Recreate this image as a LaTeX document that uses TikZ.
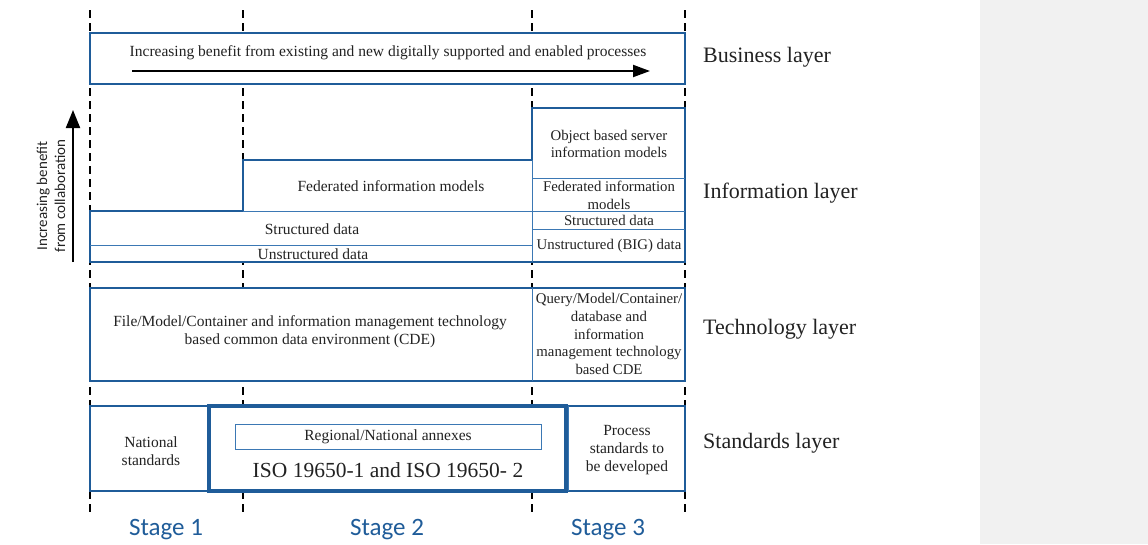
\documentclass[tikz,border=0pt]{standalone}
\usepackage{fontspec}
\setmainfont{Liberation Serif}
\newfontfamily\calfont{Carlito}
\usetikzlibrary{arrows.meta}

\definecolor{boxblue}{HTML}{1F5C99}
\definecolor{lineblue}{HTML}{3B78B4}
\definecolor{txt}{HTML}{222222}
\definecolor{panel}{HTML}{F1F1F1}

\tikzset{
  main/.style={draw=boxblue, line width=2pt},
  thin/.style={draw=lineblue, line width=1pt},
  body/.style={text=txt, font=\fontsize{15.5}{17.8}\selectfont, align=center, inner sep=0pt},
  narrow/.style={body, font=\fontsize{14.8}{17.8}\selectfont},
  layer/.style={text=txt, font=\fontsize{22}{24}\selectfont, anchor=west, inner sep=0pt},
  stage/.style={text=boxblue, font=\calfont\fontsize{25}{28}\selectfont, inner sep=0pt},
  stagesep/.style={draw=black, line width=2.2pt, dash pattern=on 8pt off 5pt}
}

\begin{document}
\begin{tikzpicture}[x=1pt, y=-1pt]

	\useasboundingbox (0,0) rectangle (1148,544);
	\fill[panel] (980,0) rectangle (1148,544);

	\foreach \sx in {90,243,532,685}
		\draw[stagesep] (\sx,10) -- (\sx,516);

	% business layer
	\filldraw[main, fill=white] (90,33) rectangle (685,84);
	\node[body] (biz) at (388,53) {Increasing benefit from existing and new digitally supported and enabled processes};
	\coordinate (bizs) at (132,71);
	\coordinate (bize) at (650,71);
	\draw[line width=2pt, -{Triangle[length=17pt, width=12pt]}] (bizs) -- (bize);

	% information layer
	\filldraw[main, fill=white] (90,211) -- (90,262) -- (685,262) -- (685,108) -- (532,108)
		-- (532,160) -- (243,160) -- (243,211) -- cycle;
	\draw[thin] (243,211) -- (685,211);
	\draw[thin] (90,245) -- (532,245);
	\draw[thin] (532,160) -- (532,262);
	\draw[thin] (532,178) -- (685,178);
	\draw[thin] (532,229) -- (685,229);

	\node[body] (struct) at (312,229) {Structured data};
	\node[body] (unstruct) at (313,254) {Unstructured data};
	\node[body] (fed) at (391,186) {Federated information models};
	\node[narrow] (objsrv) at (609,144) {Object based server\\information models};
	\node[narrow] (fedR) at (609,195) {Federated information\\models};
	\node[narrow] (structR) at (609,220) {Structured data};
	\node[narrow] (bigdata) at (609,246) {Unstructured (BIG) data};

	\coordinate (collabs) at (73,262);
	\coordinate (collabe) at (73,110);
	\draw[line width=2pt, -{Triangle[length=18pt, width=14pt]}] (collabs) -- (collabe);
	\node[text=txt, font=\calfont\fontsize{15}{18}\selectfont, align=center, rotate=90, inner sep=0pt]
		(collab) at (51,196) {Increasing benefit\\from collaboration};

	% technology layer
	\filldraw[main, fill=white] (90,288) rectangle (685,381);
	\draw[thin] (532,288) -- (532,381);
	\node[body] (cde) at (310,332) {File/Model/Container and information management technology\\based common data environment (CDE)};
	\node[narrow] (query) at (609,334) {Query/Model/Container/\\database and\\information\\management technology\\based CDE};

	% standards layer
	\filldraw[main, fill=white] (90,406) rectangle (685,491);
	\draw[thin] (568,406) -- (568,491);
	\draw[draw=boxblue, line width=4pt] (209,406) rectangle (566,491);
	\draw[thin] (235,424) rectangle (541,449);
	\node[body] (natstd) at (151,451) {National\\standards};
	\node[body] (annex) at (388,437) {Regional/National annexes};
	\node[text=txt, font=\fontsize{21.5}{24}\selectfont, inner sep=0pt] (iso) at (388,470) {ISO 19650-1 and ISO 19650- 2};
	\node[body] (procstd) at (627,450) {Process\\standards to\\be developed};

	% layer names
	\node[layer] (lbiz) at (703,57) {Business layer};
	\node[layer] (linfo) at (703,193) {Information layer};
	\node[layer] (ltech) at (703,329) {Technology layer};
	\node[layer] (lstd) at (703,443) {Standards layer};

	% stages
	\node[stage] (st1) at (166,530) {Stage 1};
	\node[stage] (st2) at (387,530) {Stage 2};
	\node[stage] (st3) at (608,530) {Stage 3};

\end{tikzpicture}
\end{document}
